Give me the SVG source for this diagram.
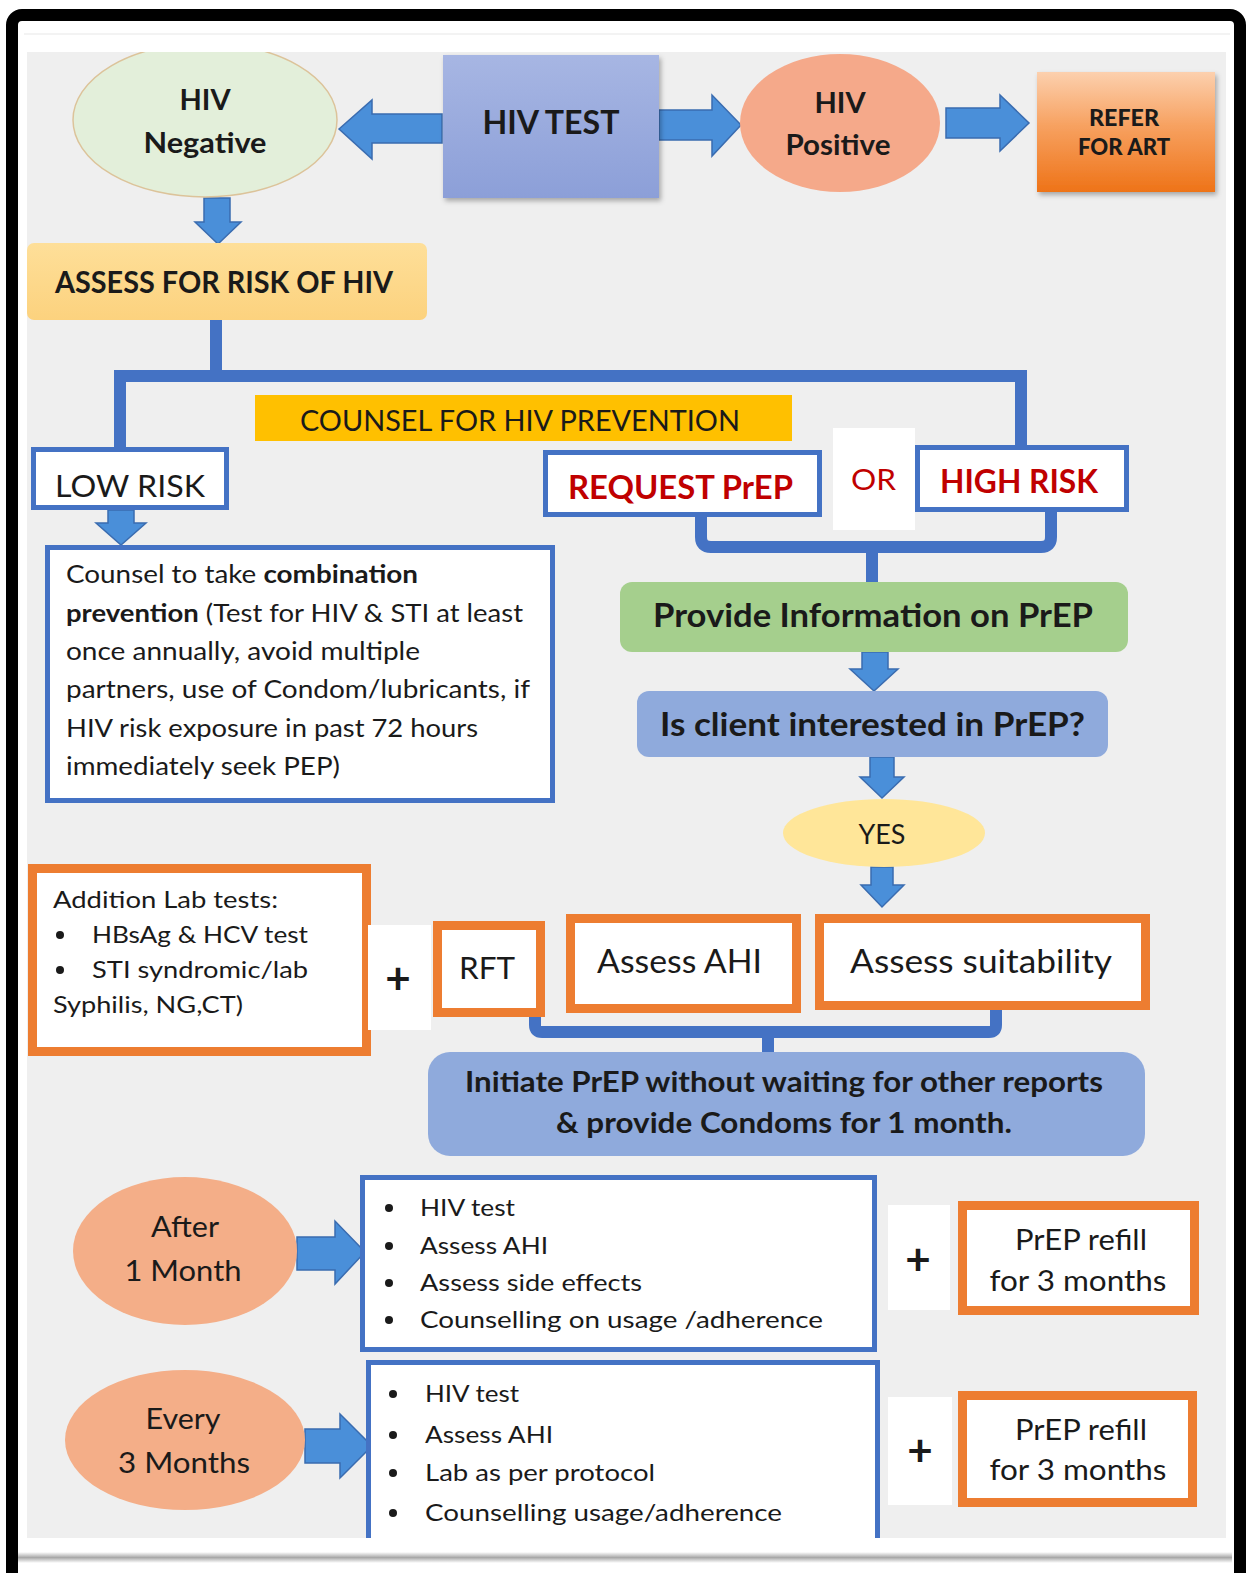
<svg xmlns="http://www.w3.org/2000/svg" width="1249" height="1573" viewBox="0 0 1249 1573">
<defs>
<style>
text{font-family:Lato,"Open Sans","Liberation Sans",sans-serif;fill:#1a1a1a}
.b{font-weight:bold}
.red{fill:#c00000}
.bluebox{fill:#fff;stroke:#4472c4;stroke-width:5}
.orbox{fill:#fff;stroke:#ed7d31;stroke-width:9}
.arrow{fill:#4a8fd9;stroke:#3a6cb0;stroke-width:1.5;stroke-linejoin:miter}
.conn{fill:none;stroke:#4472c4;stroke-width:12}
.bul{fill:#1a1a1a}
</style>
<linearGradient id="gTest" x1="0" y1="0" x2="0" y2="1"><stop offset="0" stop-color="#a7b6e3"/><stop offset="1" stop-color="#8c9fd8"/></linearGradient>
<linearGradient id="gRefer" x1="0" y1="0" x2="0" y2="1"><stop offset="0" stop-color="#fcd0ae"/><stop offset="0.45" stop-color="#f7a160"/><stop offset="1" stop-color="#ee7318"/></linearGradient>
<linearGradient id="gAssess" x1="0" y1="0" x2="0" y2="1"><stop offset="0" stop-color="#fedf99"/><stop offset="1" stop-color="#fcd27e"/></linearGradient>
<linearGradient id="gShadow" x1="0" y1="0" x2="0" y2="1"><stop offset="0" stop-color="#ffffff"/><stop offset="0.5" stop-color="#a8a8a8"/><stop offset="1" stop-color="#ffffff"/></linearGradient>
<filter id="sh" x="-10%" y="-10%" width="125%" height="130%"><feDropShadow dx="2" dy="3" stdDeviation="2.5" flood-color="#000" flood-opacity="0.3"/></filter>
<clipPath id="gclip"><rect x="27" y="52" width="1199" height="1486"/></clipPath>
</defs>

<!-- frame and background -->
<rect x="0" y="0" width="1249" height="1573" fill="#ffffff"/>
<rect x="12" y="15" width="1228" height="1600" rx="10" fill="#ffffff" stroke="#000000" stroke-width="12"/>
<line x1="24" y1="34" x2="1230" y2="34" stroke="#f3f3f3" stroke-width="2"/>
<rect x="27" y="52" width="1199" height="1486" fill="#efefef"/>
<rect x="18" y="1552" width="1214" height="11" fill="url(#gShadow)"/>

<g id="connectors">
<path class="conn" d="M216 320 V376"/>
<path class="conn" d="M120 447 V376 H1021 V447" stroke-linejoin="miter"/>
<path class="conn" d="M701 517 V537 Q701 547 711 547 H1041 Q1051 547 1051 537 V510"/>
<path class="conn" d="M872 547 V582" stroke-width="11"/>
<path class="conn" stroke-width="10" d="M535 1015 V1025 Q535 1032 542 1032 H989 Q996 1032 996 1025 V1007"/>
<path class="conn" stroke-width="10" d="M768 1032 V1052"/>
<polygon class="arrow" points="339,129 372,100 372,114 442,114 442,143 372,143 372,159"/>
<polygon class="arrow" points="659,110 712,110 712,95 741,125 712,156 712,140 659,140"/>
<polygon class="arrow" points="946,108 1000,108 1000,95 1029,123 1000,151 1000,138 946,138"/>
<polygon class="arrow" points="204,198 230,198 230,222 241,222 218,244 195,222 204,222"/>
<polygon class="arrow" points="108,510 134,510 134,523 146,523 121,545 96,523 108,523"/>
<polygon class="arrow" points="862,652 888,652 888,669 898,669 874,691 850,669 862,669"/>
<polygon class="arrow" points="870,757 894,757 894,777 904,777 882,798 860,777 870,777"/>
<polygon class="arrow" points="871,867 893,867 893,885 904,885 882,907 861,885 871,885"/>
<polygon class="arrow" points="297,1237 335,1237 335,1221 365,1252 335,1284 335,1270 297,1270"/>
<polygon class="arrow" points="305,1429 340,1429 340,1414 372,1446 340,1478 340,1463 305,1463"/>
</g>

<g id="hiv-negative" clip-path="url(#gclip)">
<ellipse cx="205" cy="120" rx="132" ry="77" fill="#e3efda" stroke="#dcc39a" stroke-width="1.5"/>
<text class="b" x="205" y="110" font-size="29" text-anchor="middle">HIV</text>
<text class="b" x="205" y="153" font-size="29" text-anchor="middle" textLength="123" lengthAdjust="spacingAndGlyphs">Negative</text>
</g>

<g id="hiv-test">
<rect x="443" y="55" width="216" height="143" fill="url(#gTest)" filter="url(#sh)"/>
<text class="b" x="551" y="134" font-size="33" text-anchor="middle" textLength="137" lengthAdjust="spacingAndGlyphs">HIV TEST</text>
</g>

<g id="hiv-positive">
<ellipse cx="840" cy="123" rx="100" ry="69" fill="#f5a98a"/>
<text class="b" x="840" y="113" font-size="29" text-anchor="middle">HIV</text>
<text class="b" x="838" y="155" font-size="29" text-anchor="middle" textLength="105" lengthAdjust="spacingAndGlyphs">Positive</text>
</g>

<g id="refer-art">
<rect x="1037" y="72" width="178" height="120" fill="url(#gRefer)" filter="url(#sh)"/>
<text class="b" x="1124" y="126" font-size="22" text-anchor="middle" textLength="70" lengthAdjust="spacingAndGlyphs" style="font-weight:900">REFER</text>
<text class="b" x="1124" y="155" font-size="22" text-anchor="middle" textLength="92" lengthAdjust="spacingAndGlyphs" style="font-weight:900">FOR ART</text>
</g>

<g id="assess-risk">
<rect x="27" y="243" width="400" height="77" rx="7" fill="url(#gAssess)"/>
<text class="b" x="55" y="293" font-size="31" textLength="338" lengthAdjust="spacingAndGlyphs">ASSESS FOR RISK OF HIV</text>
</g>

<g id="counsel-prevention">
<rect x="255" y="395" width="537" height="46" fill="#ffc000"/>
<text x="300" y="431" font-size="29" textLength="440" lengthAdjust="spacingAndGlyphs">COUNSEL FOR HIV PREVENTION</text>
</g>

<g id="low-risk">
<rect class="bluebox" x="33.5" y="449.5" width="193" height="58"/>
<text x="55" y="497" font-size="31" textLength="150" lengthAdjust="spacingAndGlyphs">LOW RISK</text>
</g>

<g id="request-prep">
<rect class="bluebox" x="545.5" y="452.5" width="274" height="62"/>
<text class="b red" x="568" y="499" font-size="32" textLength="225" lengthAdjust="spacingAndGlyphs">REQUEST PrEP</text>
</g>

<g id="or">
<rect x="833" y="428" width="82" height="102" fill="#ffffff"/>
<text class="red" x="851" y="490" font-size="29" textLength="45" lengthAdjust="spacingAndGlyphs">OR</text>
</g>

<g id="high-risk">
<rect class="bluebox" x="917.5" y="447.5" width="209" height="62"/>
<text class="b red" x="940" y="493" font-size="32" textLength="158" lengthAdjust="spacingAndGlyphs">HIGH RISK</text>
</g>

<g id="combination-prevention">
<rect class="bluebox" x="47.5" y="547.5" width="505" height="253"/>
<text x="66" y="583" font-size="25" textLength="352" lengthAdjust="spacingAndGlyphs">Counsel to take <tspan class="b">combination</tspan></text>
<text x="66" y="622" font-size="25" textLength="457" lengthAdjust="spacingAndGlyphs"><tspan class="b">prevention</tspan> (Test for HIV &amp; STI at least</text>
<text x="66" y="660" font-size="25" textLength="354" lengthAdjust="spacingAndGlyphs">once annually, avoid multiple</text>
<text x="66" y="698" font-size="25" textLength="464" lengthAdjust="spacingAndGlyphs">partners, use of Condom/lubricants, if</text>
<text x="66" y="737" font-size="25" textLength="412" lengthAdjust="spacingAndGlyphs">HIV risk exposure in past 72 hours</text>
<text x="66" y="775" font-size="25" textLength="274" lengthAdjust="spacingAndGlyphs">immediately seek PEP)</text>
</g>

<g id="provide-info">
<rect x="620" y="582" width="508" height="70" rx="12" fill="#a5cf8d"/>
<text class="b" x="653" y="627" font-size="32" textLength="440" lengthAdjust="spacingAndGlyphs">Provide Information on PrEP</text>
</g>

<g id="client-interested">
<rect x="637" y="691" width="471" height="66" rx="12" fill="#8faadc"/>
<text class="b" x="660" y="736" font-size="32" textLength="425" lengthAdjust="spacingAndGlyphs">Is client interested in PrEP?</text>
</g>

<g id="yes">
<ellipse cx="884" cy="833" rx="101" ry="34" fill="#ffe699"/>
<text x="882" y="844" font-size="26" text-anchor="middle" textLength="47" lengthAdjust="spacingAndGlyphs">YES</text>
</g>

<g id="lab-tests">
<rect class="orbox" x="32.5" y="868.5" width="334" height="183"/>
<text x="53" y="908" font-size="24" textLength="225" lengthAdjust="spacingAndGlyphs">Addition Lab tests:</text>
<circle class="bul" cx="60" cy="935" r="4"/>
<text x="92" y="943" font-size="24" textLength="216" lengthAdjust="spacingAndGlyphs">HBsAg &amp; HCV test</text>
<circle class="bul" cx="60" cy="970" r="4"/>
<text x="92" y="978" font-size="24" textLength="216" lengthAdjust="spacingAndGlyphs">STI syndromic/lab</text>
<text x="53" y="1013" font-size="24" textLength="190" lengthAdjust="spacingAndGlyphs">Syphilis, NG,CT)</text>
</g>

<g id="plus-1">
<rect x="368" y="925" width="63" height="105" fill="#ffffff"/>
<text class="b" x="398" y="994" font-size="44" text-anchor="middle">+</text>
</g>

<g id="rft">
<rect class="orbox" x="437.5" y="925.5" width="103" height="87"/>
<text x="459" y="979" font-size="30" textLength="56" lengthAdjust="spacingAndGlyphs">RFT</text>
</g>

<g id="assess-ahi">
<rect class="orbox" x="570.5" y="918.5" width="226" height="90"/>
<text x="597" y="973" font-size="32" textLength="165" lengthAdjust="spacingAndGlyphs">Assess AHI</text>
</g>

<g id="assess-suitability">
<rect class="orbox" x="819.5" y="918.5" width="326" height="87"/>
<text x="850" y="973" font-size="32" textLength="262" lengthAdjust="spacingAndGlyphs">Assess suitability</text>
</g>

<g id="initiate-prep">
<rect x="428" y="1052" width="717" height="104" rx="22" fill="#8faadc"/>
<text class="b" x="465" y="1092" font-size="28" textLength="638" lengthAdjust="spacingAndGlyphs">Initiate PrEP without waiting for other reports</text>
<text class="b" x="556" y="1133" font-size="28" textLength="456" lengthAdjust="spacingAndGlyphs">&amp; provide Condoms for 1 month.</text>
</g>

<g id="after-1-month">
<ellipse cx="185" cy="1251" rx="112" ry="74" fill="#f4ae88"/>
<text x="185" y="1237" font-size="28" text-anchor="middle" textLength="68" lengthAdjust="spacingAndGlyphs">After</text>
<text x="183" y="1281" font-size="28" text-anchor="middle" textLength="117" lengthAdjust="spacingAndGlyphs">1 Month</text>
</g>

<g id="month1-checks">
<rect class="bluebox" x="362.5" y="1177.5" width="512" height="172"/>
<circle class="bul" cx="389" cy="1208" r="4"/>
<text x="420" y="1216" font-size="24" textLength="95" lengthAdjust="spacingAndGlyphs">HIV test</text>
<circle class="bul" cx="389" cy="1246" r="4"/>
<text x="420" y="1254" font-size="24" textLength="128" lengthAdjust="spacingAndGlyphs">Assess AHI</text>
<circle class="bul" cx="389" cy="1283" r="4"/>
<text x="420" y="1291" font-size="24" textLength="222" lengthAdjust="spacingAndGlyphs">Assess side effects</text>
<circle class="bul" cx="389" cy="1320" r="4"/>
<text x="420" y="1328" font-size="24" textLength="403" lengthAdjust="spacingAndGlyphs">Counselling on usage /adherence</text>
</g>

<g id="plus-2">
<rect x="888" y="1205" width="62" height="105" fill="#ffffff"/>
<text class="b" x="918" y="1275" font-size="44" text-anchor="middle">+</text>
</g>

<g id="refill-1">
<rect class="orbox" x="962.5" y="1205.5" width="232" height="105"/>
<text x="1081" y="1250" font-size="28" text-anchor="middle" textLength="132" lengthAdjust="spacingAndGlyphs">PrEP refill</text>
<text x="1078" y="1291" font-size="28" text-anchor="middle" textLength="177" lengthAdjust="spacingAndGlyphs">for 3 months</text>
</g>

<g id="every-3-months">
<ellipse cx="185" cy="1440" rx="120" ry="70" fill="#f4ae88"/>
<text x="183" y="1429" font-size="28" text-anchor="middle" textLength="75" lengthAdjust="spacingAndGlyphs">Every</text>
<text x="184" y="1473" font-size="28" text-anchor="middle" textLength="132" lengthAdjust="spacingAndGlyphs">3 Months</text>
</g>

<g id="month3-checks">
<rect x="368" y="1362" width="510" height="176" fill="#ffffff"/>
<path d="M368.5 1538 V1362.5 H877.5 V1538" fill="none" stroke="#4472c4" stroke-width="5"/>
<circle class="bul" cx="393" cy="1394" r="4"/>
<text x="425" y="1402" font-size="24" textLength="94" lengthAdjust="spacingAndGlyphs">HIV test</text>
<circle class="bul" cx="393" cy="1435" r="4"/>
<text x="425" y="1443" font-size="24" textLength="128" lengthAdjust="spacingAndGlyphs">Assess AHI</text>
<circle class="bul" cx="393" cy="1473" r="4"/>
<text x="425" y="1481" font-size="24" textLength="230" lengthAdjust="spacingAndGlyphs">Lab as per protocol</text>
<circle class="bul" cx="393" cy="1513" r="4"/>
<text x="425" y="1521" font-size="24" textLength="357" lengthAdjust="spacingAndGlyphs">Counselling usage/adherence</text>
</g>

<g id="plus-3">
<rect x="888" y="1397" width="64" height="108" fill="#ffffff"/>
<text class="b" x="920" y="1466" font-size="44" text-anchor="middle">+</text>
</g>

<g id="refill-2">
<rect class="orbox" x="962.5" y="1395.5" width="230" height="107"/>
<text x="1081" y="1440" font-size="28" text-anchor="middle" textLength="132" lengthAdjust="spacingAndGlyphs">PrEP refill</text>
<text x="1078" y="1480" font-size="28" text-anchor="middle" textLength="177" lengthAdjust="spacingAndGlyphs">for 3 months</text>
</g>
</svg>
